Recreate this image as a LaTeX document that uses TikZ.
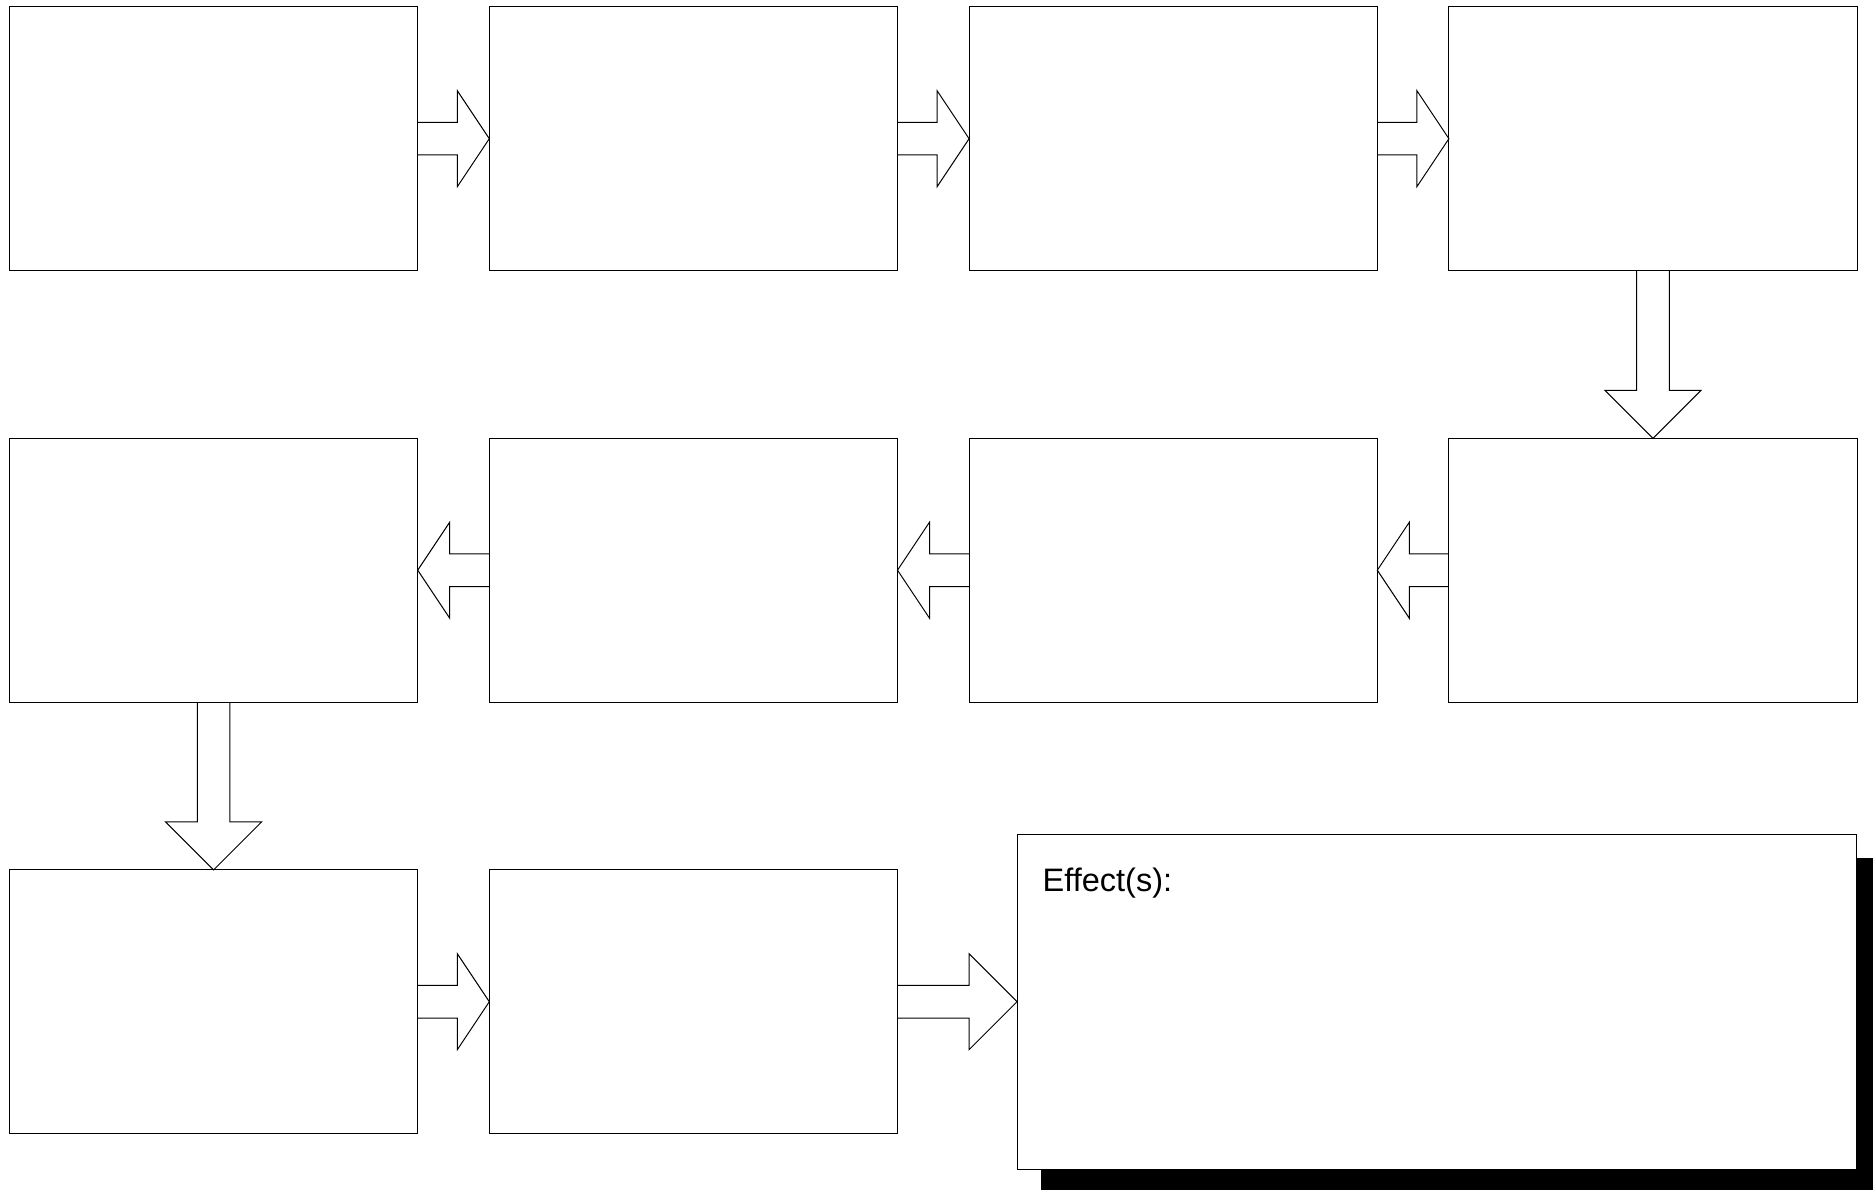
\documentclass[tikz,border=0pt]{standalone}
\usepackage{fontspec}
\setmainfont{Liberation Sans}
\usetikzlibrary{calc}
\newcommand{\arrsw}{16.3}
\newcommand{\arrhw}{48}
\newcommand{\rarr}[3]{\draw[blockarrow] ($(#1.east)+(0,-\arrsw)$) -- ($(#2.west)+(-#3,-\arrsw)$) -- ($(#2.west)+(-#3,-\arrhw)$) -- (#2.west) -- ($(#2.west)+(-#3,\arrhw)$) -- ($(#2.west)+(-#3,\arrsw)$) -- ($(#1.east)+(0,\arrsw)$);}
\newcommand{\larr}[3]{\draw[blockarrow] ($(#1.west)+(0,-\arrsw)$) -- ($(#2.east)+(#3,-\arrsw)$) -- ($(#2.east)+(#3,-\arrhw)$) -- (#2.east) -- ($(#2.east)+(#3,\arrhw)$) -- ($(#2.east)+(#3,\arrsw)$) -- ($(#1.west)+(0,\arrsw)$);}
\newcommand{\darr}[3]{\draw[blockarrow] ($(#1.south)+(-\arrsw,0)$) -- ($(#2.north)+(-\arrsw,-#3)$) -- ($(#2.north)+(-\arrhw,-#3)$) -- (#2.north) -- ($(#2.north)+(\arrhw,-#3)$) -- ($(#2.north)+(\arrsw,-#3)$) -- ($(#1.south)+(\arrsw,0)$);}
\tikzset{
  stepbox/.style={draw=black, line width=1pt, fill=white, rectangle, inner sep=0pt, outer sep=0pt,
    minimum width=408.2pt, minimum height=263.6pt},
  blockarrow/.style={draw=black, line width=1pt, line join=miter},
  effectbox/.style={draw=black, line width=0.8pt, fill=white, rectangle, inner sep=0pt, outer sep=0pt,
    minimum width=839.5pt, minimum height=335.3pt},
  shadowbox/.style={fill=black, draw=none}
}
\begin{document}
\begin{tikzpicture}[x=1pt,y=-1pt]
\useasboundingbox (0,0) rectangle (1873,1190);
\fill[white] (0,0) rectangle (1873,1190);
% row 1
\node[stepbox] (b1) at (213.6,138.7) {};
\node[stepbox] (b2) at (693.4,138.7) {};
\node[stepbox] (b3) at (1173.2,138.7) {};
\node[stepbox] (b4) at (1653.0,138.7) {};
% row 2
\node[stepbox] (b5) at (1653.0,570.2) {};
\node[stepbox] (b6) at (1173.2,570.2) {};
\node[stepbox] (b7) at (693.4,570.2) {};
\node[stepbox] (b8) at (213.6,570.2) {};
% row 3
\node[stepbox] (b9) at (213.6,1001.7) {};
\node[stepbox] (b10) at (693.4,1001.7) {};
% effect box with shadow
\coordinate (shtl) at (1040.5,858);
\coordinate (shbr) at (1873,1190);
\fill[shadowbox] (shtl) rectangle (shbr);
\node[effectbox] (eff) at (1436.75,1001.7) {};
\node[anchor=base west, inner sep=0pt, font=\fontsize{32.5}{39}\selectfont] (efftxt) at (1042.5,891.5) {Effect(s):};
% arrows
\rarr{b1}{b2}{32}
\rarr{b2}{b3}{32}
\rarr{b3}{b4}{32}
\darr{b4}{b5}{48}
\larr{b5}{b6}{32}
\larr{b6}{b7}{32}
\larr{b7}{b8}{32}
\darr{b8}{b9}{48}
\rarr{b9}{b10}{32}
\rarr{b10}{eff}{48}
\end{tikzpicture}
\end{document}
